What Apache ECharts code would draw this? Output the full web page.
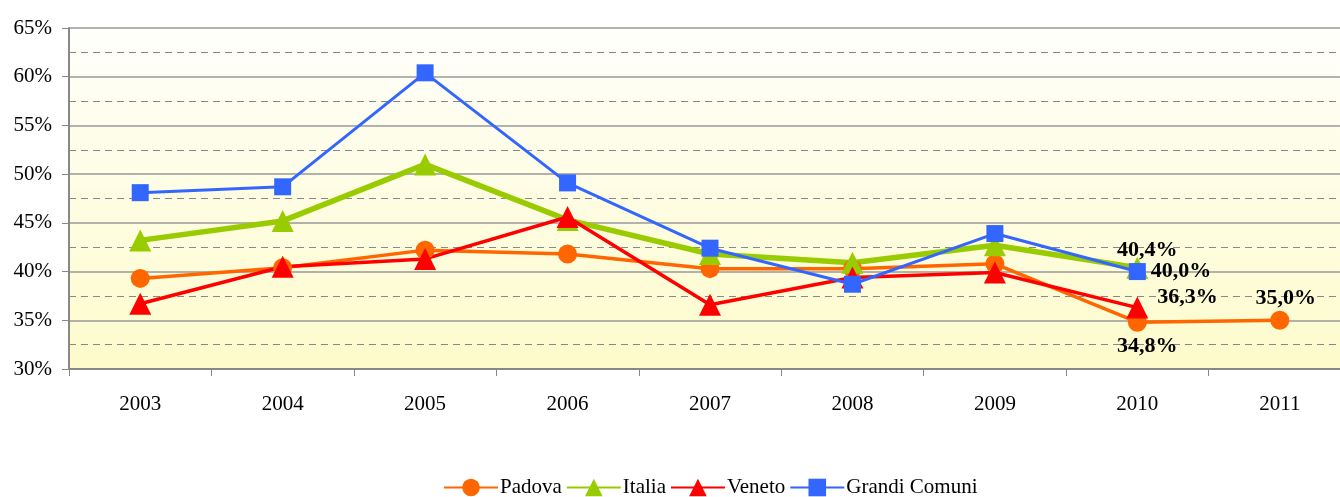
<!DOCTYPE html>
<html>
<head>
<meta charset="utf-8">
<script src="https://cdn.jsdelivr.net/npm/echarts@6/dist/echarts.min.js"></script>
<style>
html,body{margin:0;padding:0;background:#fff;overflow:hidden}
#chart{width:1351px;height:497px}
</style>
</head>
<body>
<div id="chart"></div>
<script>
// anni
const years = ['2003', '2004', '2005', '2006', '2007', '2008', '2009', '2010', '2011'];
// valori in %
const padova = [39.3, 40.4, 42.2, 41.8, 40.3, 40.3, 40.8, 34.8, 35.0];
const italia = [43.2, 45.2, 51.0, 45.3, 41.8, 40.9, 42.7, 40.4, null];
const veneto = [36.7, 40.5, 41.3, 45.6, 36.6, 39.4, 39.9, 36.3, null];
const grandiComuni = [48.1, 48.7, 60.4, 49.1, 42.4, 38.7, 43.9, 40.0, null];

const font = 'Liberation Serif';
const fmt = v => v.toFixed(1).replace('.', ',') + '%';

// etichette solo sugli ultimi punti
function withLabel(data, idx, pos, off) {
  return data.map((v, i) => {
    if (i !== idx || v == null) return v;
    return {
      value: v,
      label: {
        show: true, position: pos, offset: off,
        formatter: p => fmt(p.value),
        fontFamily: font, fontWeight: 'bold', fontSize: 22, color: '#000'
      }
    };
  });
}

const padovaData = withLabel(withLabel(padova, 7, 'bottom', [10, -1]), 8, 'top', [6, 4]);

const chart = echarts.init(document.getElementById('chart'));
const option = {
  animation: false,
  textStyle: { fontFamily: font },
  grid: {
    left: 69, right: 0, top: 28, bottom: 128, show: true, borderWidth: 0,
    backgroundColor: new echarts.graphic.LinearGradient(0, 0, 0, 1, [
      { offset: 0, color: '#fffffb' },
      { offset: 1, color: '#fdfbcb' }
    ])
  },
  legend: {
    bottom: -6, left: 438, itemWidth: 54, itemHeight: 22, itemGap: 4,
    textStyle: { fontFamily: font, fontSize: 21, color: '#000', padding: [0, 0, 0, -3] },
    data: ['Padova', 'Italia', 'Veneto', 'Grandi Comuni']
  },
  xAxis: {
    type: 'category', data: years, boundaryGap: true,
    axisLine: { lineStyle: { color: '#888', width: 2 } },
    axisTick: { show: true, length: 7, lineStyle: { color: '#888' } },
    axisLabel: { fontFamily: font, fontSize: 21, color: '#000', margin: 25 }
  },
  yAxis: {
    type: 'value', min: 30, max: 65, interval: 5,
    axisLine: { show: true, lineStyle: { color: '#888', width: 2 } },
    axisTick: { show: true, length: 7, lineStyle: { color: '#888' } },
    axisLabel: { fontFamily: font, fontSize: 21, color: '#000', margin: 17,
      formatter: v => v + '%' },
    splitLine: { lineStyle: { color: '#999', width: 1.5 } },
    minorTick: { show: false, splitNumber: 2 },
    minorSplitLine: { show: true, lineStyle: { color: '#888', type: [7, 5], width: 1 } }
  },
  series: [
    {
      name: 'Padova', type: 'line', data: padovaData,
      symbol: 'circle', symbolSize: 19,
      lineStyle: { color: '#ff6600', width: 3.5 }, itemStyle: { color: '#ff6600' }
    },
    {
      name: 'Italia', type: 'line', data: withLabel(italia, 7, 'top', [10, 10]),
      symbol: 'triangle', symbolSize: 22,
      lineStyle: { color: '#99cc00', width: 5.5 }, itemStyle: { color: '#99cc00' }
    },
    {
      name: 'Veneto', type: 'line', data: withLabel(veneto, 7, 'right', [4, -10]),
      symbol: 'triangle', symbolSize: 22,
      lineStyle: { color: '#ff0000', width: 3.5 }, itemStyle: { color: '#ff0000' }
    },
    {
      name: 'Grandi Comuni', type: 'line', data: withLabel(grandiComuni, 7, 'right', [0, 0]),
      symbol: 'rect', symbolSize: 17,
      lineStyle: { color: '#3366ff', width: 3 }, itemStyle: { color: '#3366ff' }
    }
  ]
};
chart.setOption(option);
</script>
</body>
</html>
